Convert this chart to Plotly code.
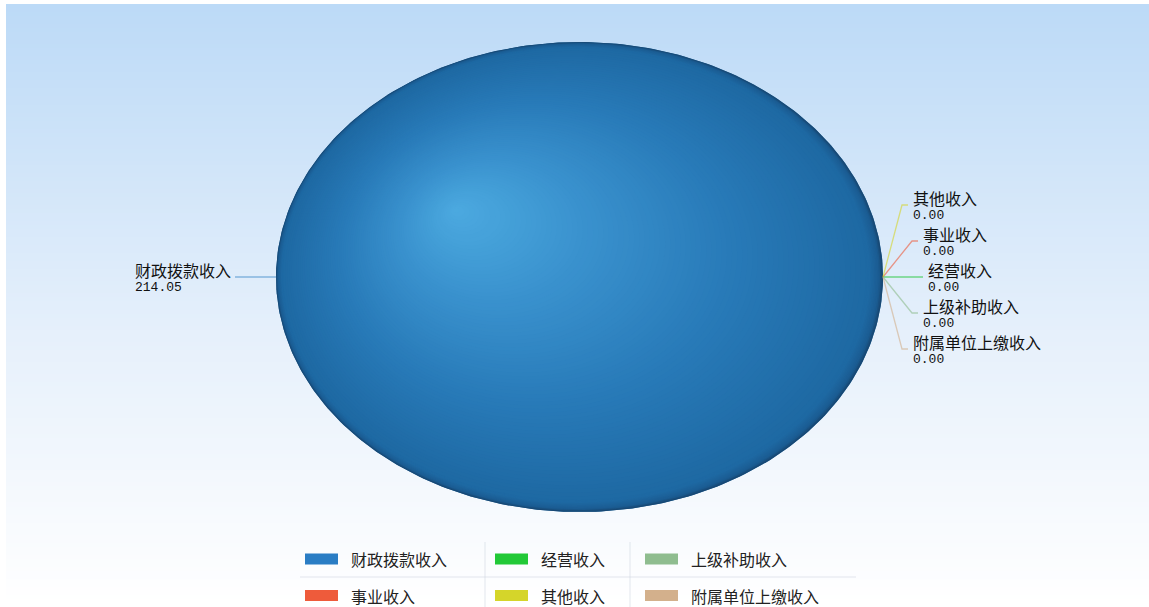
import numpy as np
import plotly.graph_objects as go

# ---- data -------------------------------------------------------------
categories = ["财政拨款收入", "事业收入", "经营收入", "其他收入", "上级补助收入", "附属单位上缴收入"]
values = [214.05, 0.00, 0.00, 0.00, 0.00, 0.00]
slice_colors = ["#2a7dc4", "#ee5b3b", "#22c937", "#d5d52a", "#8fbd8f", "#d3b08c"]
# top-to-bottom order of the stacked labels on the right-hand side
right_label_order = ["其他收入", "事业收入", "经营收入", "上级补助收入", "附属单位上缴收入"]

# ---- canvas (axes in pixel units) ------------------------------------
W, H = 1149, 607
CX, CY, RX, RY = 579.5, 277.0, 303.5, 235.0      # pie ellipse
HX, HY = 455.0, 210.0                              # highlight point
CN_FONT = "Noto Sans CJK SC"
NUM_FONT = "Liberation Mono"

fig = go.Figure()

# soft vertical background gradient
n_rows = 150
y_edges = np.linspace(4, H, n_rows + 1)
fig.add_trace(go.Heatmap(
    x=[6, W], y=y_edges, z=np.linspace(0, 1, n_rows).reshape(-1, 1),
    colorscale=[[0, "#bcdaf7"], [0.55, "#e6f0fb"], [1, "#ffffff"]],
    showscale=False, hoverinfo="skip", zsmooth=False,
))


def ellipse_point(theta, cx=CX, cy=CY, rx=RX, ry=RY):
    return cx + rx * np.cos(theta), cy - ry * np.sin(theta)


def shade_color(t):
    stops = [(0.0, (24, 72, 115)), (0.008, (27, 92, 146)), (0.03, (30, 105, 163)),
             (0.35, (40, 122, 184)), (0.7, (58, 146, 206)), (1.0, (76, 170, 224))]
    for (t0, c0), (t1, c1) in zip(stops[:-1], stops[1:]):
        if t0 <= t <= t1:
            f = (t - t0) / (t1 - t0)
            return tuple(int(round(c0[i] + f * (c1[i] - c0[i]))) for i in range(3))
    return stops[-1][1]


# ---- slices -----------------------------------------------------------
total = float(sum(values))
angles = []
a0 = 0.0
for cat, val, col in zip(categories, values, slice_colors):
    frac = val / total
    a1 = a0 + frac * 2 * np.pi
    angles.append((a0, a1))
    if frac > 0:
        th = np.linspace(a0, a1, 361)
        xs, ys = ellipse_point(th)
        if frac < 1:
            xs = np.concatenate([[CX], xs, [CX]])
            ys = np.concatenate([[CY], ys, [CY]])
        fig.add_trace(go.Scatter(
            x=xs, y=ys, mode="lines", fill="toself", fillcolor="#1d6aa4",
            line=dict(width=0), name=cat,
            hovertemplate=f"{cat}: {val:.2f}<extra></extra>",
        ))
        # spherical shading: nested ellipses shrinking toward the highlight
        t_layers = np.concatenate([np.linspace(0, 0.04, 12, endpoint=False),
                                   np.linspace(0.04, 0.99, 80)])
        for t in t_layers:
            rgb = shade_color(t)
            lx = (1 - t) * xs + t * HX
            ly = (1 - t) * ys + t * HY
            fig.add_trace(go.Scatter(
                x=lx, y=ly, mode="lines", fill="toself",
                fillcolor=f"rgb{rgb}", line=dict(width=0),
                hoverinfo="skip", showlegend=False,
            ))
    a0 = a1

# ---- labels with connector lines --------------------------------------
annotations = []
shapes = []


def label_text(cat, val):
    return (f'<span style="font-family:{CN_FONT};font-size:16px">{cat}</span><br>'
            f'<span style="font-family:{NUM_FONT};font-size:13px">{val:.2f}</span>')


right_slots = [(-72, 19), (-36, 29), (0, 34), (36, 29), (72, 19)]
for cat, val, col, (a0, a1) in zip(categories, values, slice_colors, angles):
    mid = (a0 + a1) / 2
    px, py = ellipse_point(mid)
    if val / total >= 0.5 and np.cos(mid) < 0:
        # main slice: horizontal leader on the left
        ex = px - 41
        fig.add_trace(go.Scatter(x=[px, ex], y=[py, py], mode="lines",
                                 line=dict(color=col, width=1), opacity=0.75,
                                 hoverinfo="skip", showlegend=False))
        annotations.append(dict(x=ex - 3, y=py - 1, text=label_text(cat, val),
                                xanchor="right", yanchor="middle", align="left",
                                showarrow=False, borderpad=0,
                                font=dict(family=CN_FONT, size=11, color="#111")))
    else:
        dy, dx = right_slots[right_label_order.index(cat)]
        ex, ey = px + dx, py + dy
        fig.add_trace(go.Scatter(x=[px, ex, ex + 6], y=[py, ey, ey], mode="lines",
                                 line=dict(color=col, width=1.3), opacity=0.6,
                                 hoverinfo="skip", showlegend=False))
        annotations.append(dict(x=ex + 10, y=ey - 1, text=label_text(cat, val),
                                xanchor="left", yanchor="middle", align="left",
                                showarrow=False, borderpad=0,
                                font=dict(family=CN_FONT, size=11, color="#111")))

# ---- legend (3 columns x 2 rows, filled column by column) -------------
col_x = [305, 495, 645]
row_y = [559, 595.5]
for i, (cat, col) in enumerate(zip(categories, slice_colors)):
    c, r = i // 2, i % 2
    x0, yc = col_x[c], row_y[r]
    shapes.append(dict(type="rect", xref="x", yref="y", x0=x0, x1=x0 + 33,
                       y0=yc - 5.5, y1=yc + 5.5, fillcolor=col, line=dict(width=0)))
    annotations.append(dict(x=x0 + 45, y=yc, text=cat, xanchor="left", yanchor="middle",
                            showarrow=False, borderpad=0,
                            font=dict(family=CN_FONT, size=16, color="#222")))

grid = "rgba(205,214,224,0.55)"
shapes.append(dict(type="line", xref="x", yref="y", x0=300, x1=856, y0=577, y1=577,
                   line=dict(color=grid, width=1)))
for gx in (485, 630):
    shapes.append(dict(type="line", xref="x", yref="y", x0=gx, x1=gx, y0=542, y1=607,
                       line=dict(color=grid, width=1)))

fig.update_layout(
    width=W, height=H, margin=dict(l=0, r=0, t=0, b=0),
    paper_bgcolor="white", plot_bgcolor="white", showlegend=False,
    xaxis=dict(range=[0, W], visible=False, fixedrange=True),
    yaxis=dict(range=[H, 0], visible=False, fixedrange=True),
    annotations=annotations, shapes=shapes,
)

fig.write_html("out.html")
